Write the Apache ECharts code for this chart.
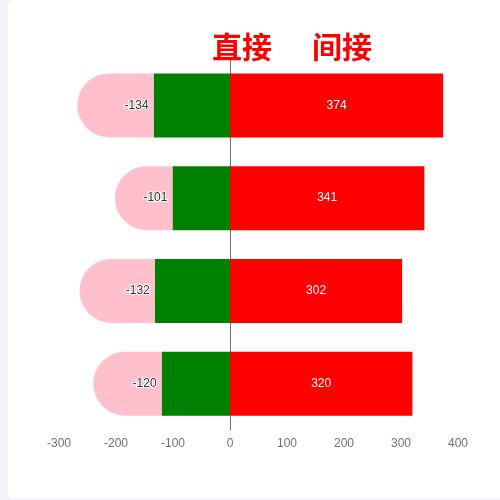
<!DOCTYPE html>
<html>
<head>
<meta charset="utf-8">
<script src="https://cdn.jsdelivr.net/npm/echarts@6/dist/echarts.min.js"></script>
<style>
html,body{margin:0;padding:0;width:500px;height:500px;overflow:hidden;background:#f3f4f9;}
#card{position:absolute;left:8px;top:0;width:500px;height:498px;background:#fff;border-radius:6px;overflow:hidden;}
#main{position:absolute;left:0;top:0;width:492px;height:498px;}
</style>
</head>
<body>
<div id="card"><div id="main"></div></div>
<script>
var categories = ['A', 'B', 'C', 'D'];
var directValues = [-134, -101, -132, -120];
var directLabels = [-134, -101, -132, -120];
var indirectValues = [374, 341, 302, 320];
var xTicks = [-300, -200, -100, 0, 100, 200, 300, 400];

var chart = echarts.init(document.getElementById('main'));
chart.setOption({
  animation: false,
  title: [
    {text: '直接', left: 199, top: 27, textStyle: {color: '#ff0000', fontSize: 30, fontWeight: 'bold', fontFamily: 'Noto Sans CJK SC'}},
    {text: '间接', left: 299, top: 27, textStyle: {color: '#ff0000', fontSize: 30, fontWeight: 'bold', fontFamily: 'Noto Sans CJK SC'}}
  ],
  grid: {left: 51, right: 42, top: 59, bottom: 68, containLabel: false},
  xAxis: {
    type: 'value', min: xTicks[0], max: xTicks[xTicks.length - 1], interval: 100,
    axisLine: {show: false}, axisTick: {show: false}, splitLine: {show: false},
    axisLabel: {color: '#6E7079', fontSize: 12}
  },
  yAxis: {
    type: 'category', data: categories, inverse: true,
    axisLine: {show: true, lineStyle: {color: '#6E7079'}},
    axisTick: {show: false}, axisLabel: {show: false}
  },
  series: [
    {type: 'bar', stack: 'total', barWidth: 64, data: directValues, itemStyle: {color: '#008000'}},
    {type: 'bar', stack: 'total', barWidth: 64, data: directLabels,
     itemStyle: {color: '#ffc0cb', borderRadius: [32, 0, 0, 32]},
     label: {show: true, position: 'insideRight', color: '#333', textBorderColor: '#fff', textBorderWidth: 2, fontSize: 12}},
    {type: 'bar', stack: 'total', barWidth: 64, data: indirectValues, itemStyle: {color: '#ff0000'},
     label: {show: true, position: 'inside', color: '#fff', fontSize: 12}}
  ]
});
</script>
</body>
</html>
